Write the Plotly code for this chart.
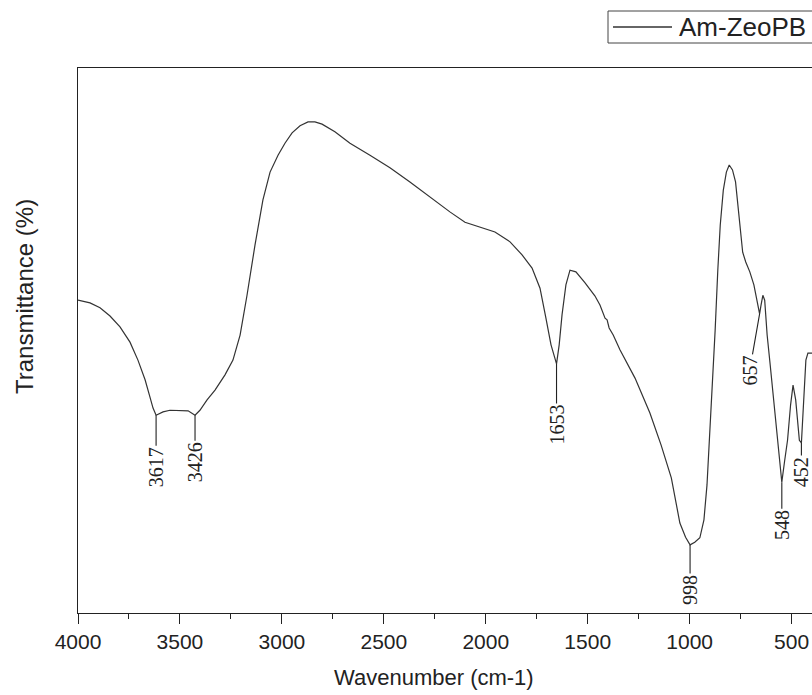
import numpy as np
import plotly.graph_objects as go

# ---- data ----
wavenumber = [4000, 3941, 3892, 3843, 3794, 3745, 3706, 3671, 3647, 3632, 3617, 3583, 3549, 3500,
              3460, 3426, 3402, 3367, 3328, 3279, 3240, 3205, 3171, 3132, 3093, 3058, 3019, 2985,
              2950, 2911, 2872, 2838, 2803, 2740, 2666, 2568, 2470, 2372, 2274, 2176, 2102, 2028,
              1955, 1881, 1822, 1773, 1734, 1705, 1680, 1653, 1640, 1626, 1607, 1587, 1558, 1514,
              1465, 1440, 1415, 1405, 1395, 1375, 1342, 1268, 1195, 1140, 1090, 1048, 1020, 998,
              975, 950, 930, 915, 900, 890, 875, 862, 850, 835, 820, 806, 790, 775, 760, 750, 740,
              725, 705, 685, 670, 657, 650, 641, 632, 620, 605, 585, 565, 555, 548, 535, 520, 505,
              493, 480, 470, 462, 452, 445, 430, 420, 400]
transmittance = [57.4, 56.9, 56.0, 54.5, 52.5, 49.7, 46.4, 42.8, 39.6, 37.6, 36.3, 36.9, 37.2, 37.2,
                 37.1, 36.3, 37.2, 39.1, 40.9, 43.7, 46.4, 51.0, 58.3, 67.5, 75.8, 80.9, 84.0, 86.2,
                 88.1, 89.4, 90.1, 90.1, 89.7, 88.3, 86.2, 84.0, 81.7, 79.1, 76.3, 73.6, 71.7, 70.8,
                 69.9, 68.1, 65.7, 63.3, 59.6, 54.1, 49.2, 45.7, 49.2, 54.7, 60.2, 62.9, 62.6, 60.6,
                 58.2, 56.5, 54.1, 53.8, 52.3, 51.0, 48.3, 43.1, 36.7, 30.8, 24.8, 16.5, 13.9, 12.5,
                 13.0, 13.8, 17.1, 23.5, 33.6, 42.2, 51.9, 62.9, 71.2, 77.6, 80.9, 82.2, 81.3, 79.1,
                 73.0, 69.4, 66.2, 64.4, 62.6, 60.2, 57.1, 54.9, 56.5, 58.3, 57.4, 51.0, 45.5, 38.2,
                 30.8, 26.8, 24.0, 27.7, 31.7, 38.2, 41.8, 39.1, 34.5, 31.7, 31.2, 35.4, 46.4, 47.7,
                 47.7]

peak_positions = [3617, 3426, 1653, 998, 657, 548, 452]
peak_labels = ["3617", "3426", "1653", "998", "657", "548", "452"]

series_name = "Am-ZeoPB"
x_title = "Wavenumber (cm-1)"
y_title = "Transmittance (%)"
x_tickvals = [4000, 3500, 3000, 2500, 2000, 1500, 1000, 500]

# ---- styling (pixel offsets of the peak labels) ----
label_offsets = {"3617": (0, 52), "3426": (0, 47), "1653": (0, 61), "998": (0, 45),
                 "657": (-10, 57), "548": (0, 43), "452": (0, 29)}

INK = "#222222"
fig = go.Figure()
fig.add_trace(go.Scatter(x=wavenumber, y=transmittance, mode="lines", name=series_name,
                         line=dict(color="#333333", width=1.2), showlegend=False))

wn_sorted = np.array(wavenumber[::-1], dtype=float)
tr_sorted = np.array(transmittance[::-1], dtype=float)
for pos, lab in zip(peak_positions, peak_labels):
    yv = float(np.interp(pos, wn_sorted, tr_sorted))
    ax, ay = label_offsets[lab]
    fig.add_annotation(x=pos, y=yv, xref="x", yref="y", text=lab, textangle=-90,
                       showarrow=True, arrowhead=0, arrowwidth=1.1, arrowcolor=INK,
                       ax=ax, ay=ay, standoff=0, startstandoff=0,
                       font=dict(family="Liberation Serif", size=20, color=INK))

# layout geometry (pixels -> paper)
L, R, T, B = 78, 812, 68, 613
def px(xp):
    return (xp - L) / (R - L)
def py(yp):
    return (B - yp) / (B - T)

# manual legend (box partly beyond the right edge as in the reference)
fig.add_shape(type="rect", xref="paper", yref="paper", x0=px(608), x1=px(822), y0=py(43), y1=py(11),
              line=dict(color="#444444", width=1), fillcolor="white")
fig.add_shape(type="line", xref="paper", yref="paper", x0=px(613), x1=px(672), y0=py(27), y1=py(27),
              line=dict(color="#333333", width=1.3))
fig.add_annotation(xref="paper", yref="paper", x=px(677), y=py(27), xanchor="left", yanchor="middle",
                   text=series_name, showarrow=False,
                   font=dict(family="Liberation Sans", size=26, color=INK))

# axis titles
fig.add_annotation(xref="paper", yref="paper", x=px(434), y=py(677), xanchor="center", yanchor="middle",
                   text=x_title, showarrow=False, font=dict(family="Liberation Sans", size=22, color=INK))
fig.add_annotation(xref="paper", yref="paper", x=px(24), y=py(297), xanchor="center", yanchor="middle",
                   text=y_title, textangle=-90, showarrow=False,
                   font=dict(family="Liberation Sans", size=24, color=INK))

fig.update_layout(
    width=812, height=695,
    margin=dict(l=L, r=812 - R, t=T, b=695 - B, pad=0),
    paper_bgcolor="white", plot_bgcolor="white",
    showlegend=False,
    xaxis=dict(range=[4000, 400], tickmode="array", tickvals=x_tickvals,
               ticktext=[str(v) for v in x_tickvals],
               ticks="outside", ticklen=10, tickwidth=1.2, tickcolor=INK,
               minor=dict(ticks="outside", ticklen=5, tickwidth=1.2, tickcolor=INK,
                          tickmode="linear", tick0=0, dtick=250, showgrid=False),
               showline=True, linecolor=INK, linewidth=1.3, mirror=True,
               showgrid=False, zeroline=False,
               tickfont=dict(family="Liberation Sans", size=21, color=INK)),
    yaxis=dict(range=[0, 100], showticklabels=False, ticks="", showgrid=False, zeroline=False,
               showline=True, linecolor=INK, linewidth=1.3, mirror=False),
)

fig.write_html("out.html")
